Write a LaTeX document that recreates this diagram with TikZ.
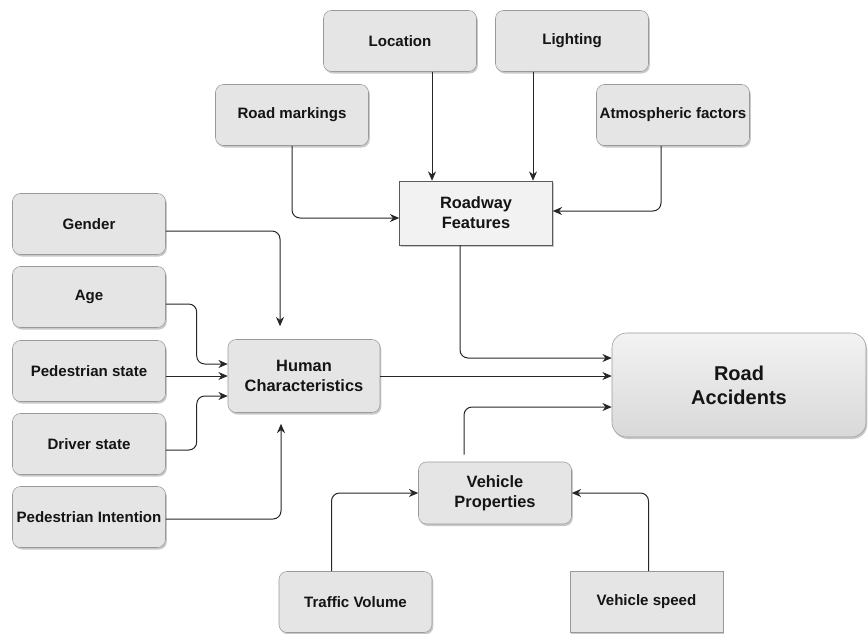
\documentclass[tikz,border=0pt]{standalone}
\usepackage{fontspec}
\setmainfont{Liberation Sans}
\usetikzlibrary{arrows.meta,shadows,calc}

\begin{document}
\begin{tikzpicture}[x=0.75pt, y=-0.75pt,
  box/.style={draw=black!40, fill=black!10, rounded corners=6pt, align=center,
    inner sep=2pt, minimum width=114.75pt, minimum height=45.75pt,
    font=\fontsize{11.3}{13.5}\selectfont\bfseries, text=black!92,
    drop shadow={shadow xshift=1pt, shadow yshift=-1.5pt, fill=black!30, opacity=.7}},
  sqbox/.style={box, rounded corners=0pt},
  midfont/.style={font=\fontsize{12.3}{15}\selectfont\bfseries},
  link/.style={draw=black!85, line width=.75pt, rounded corners=6pt,
    -{Stealth[length=7pt,width=6pt]}}]
  \useasboundingbox (0,0) rectangle (868,633);

  % roadway side
  \node[box] (loc) at (400,41) {Location};
  \node[box] (light) at (572,41) {Lighting};
  \node[box] (mark) at (292,115) {Road markings};
  \node[box] (atmo) at (673,115) {Atmospheric factors};
  \node[sqbox, midfont, fill=black!5, draw=black!65, minimum height=48pt] (road) at (476,213) {Roadway\\Features};

  % human side
  \node[box] (gen) at (89,224) {Gender};
  \node[box] (age) at (89,297) {Age};
  \node[box] (ped) at (89,371) {Pedestrian state};
  \node[box] (drv) at (89,444) {Driver state};
  \node[box] (pint) at (89,517) {Pedestrian Intention};
  \node[box, midfont, minimum width=114pt, minimum height=54.75pt] (hum) at (304,376) {Human\\Characteristics};

  % target
  \node[box, rounded corners=11pt, minimum width=190.5pt, minimum height=78pt,
        top color=black!5, bottom color=black!15, font=\fontsize{15}{18}\selectfont\bfseries]
        (acc) at (739,385) {Road\\Accidents};

  % vehicle side
  \node[box, midfont, minimum height=46.5pt] (veh) at (495,493) {Vehicle\\Properties};
  \node[box] (traf) at (355.5,602) {Traffic Volume};
  \node[sqbox] (spd) at (646.5,602) {Vehicle speed};

  % start points off the middle of a side
  \coordinate (locout) at ($(loc.south)+(32,0)$);
  \coordinate (lightout) at ($(light.south)+(-39,0)$);
  \coordinate (pedout) at ($(ped.east)+(0,5)$);

  % into roadway features
  \draw[link] (locout) -- (locout |- road.north);
  \draw[link] (lightout) -- (lightout |- road.north);
  \draw[link] (mark.south) |- ($(road.west)+(0,5)$);
  \draw[link] ($(atmo.south)+(-12,0)$) |- ($(road.east)+(0,-2)$);

  % into human characteristics
  \draw[link] ($(gen.east)+(0,7)$) -| ($(hum.north)+(-24,-13)$);
  \draw[link] ($(age.east)+(0,7)$) -| ($(hum.west)+(-31,-12)$) -- ($(hum.west)+(0,-12)$);
  \draw[link] (pedout) -- (pedout -| hum.west);
  \draw[link] ($(drv.east)+(0,6)$) -| ($(hum.west)+(-31,20)$) -- ($(hum.west)+(0,20)$);
  \draw[link] ($(pint.east)+(0,2)$) -| ($(hum.south)+(-23,11)$);

  % into vehicle properties
  \draw[link] ($(traf.north)+(-24,0)$) |- (veh.west);
  \draw[link] ($(spd.north)+(2,0)$) |- (veh.east);

  % into road accidents
  \draw[link] ($(road.south)+(-16,0)$) |- ($(acc.west)+(0,-27)$);
  \draw[link] (hum.east) -- (hum.east -| acc.west);
  \draw[link] ($(veh.north)+(-31,-7)$) |- ($(acc.west)+(0,22)$);

\end{tikzpicture}
\end{document}
